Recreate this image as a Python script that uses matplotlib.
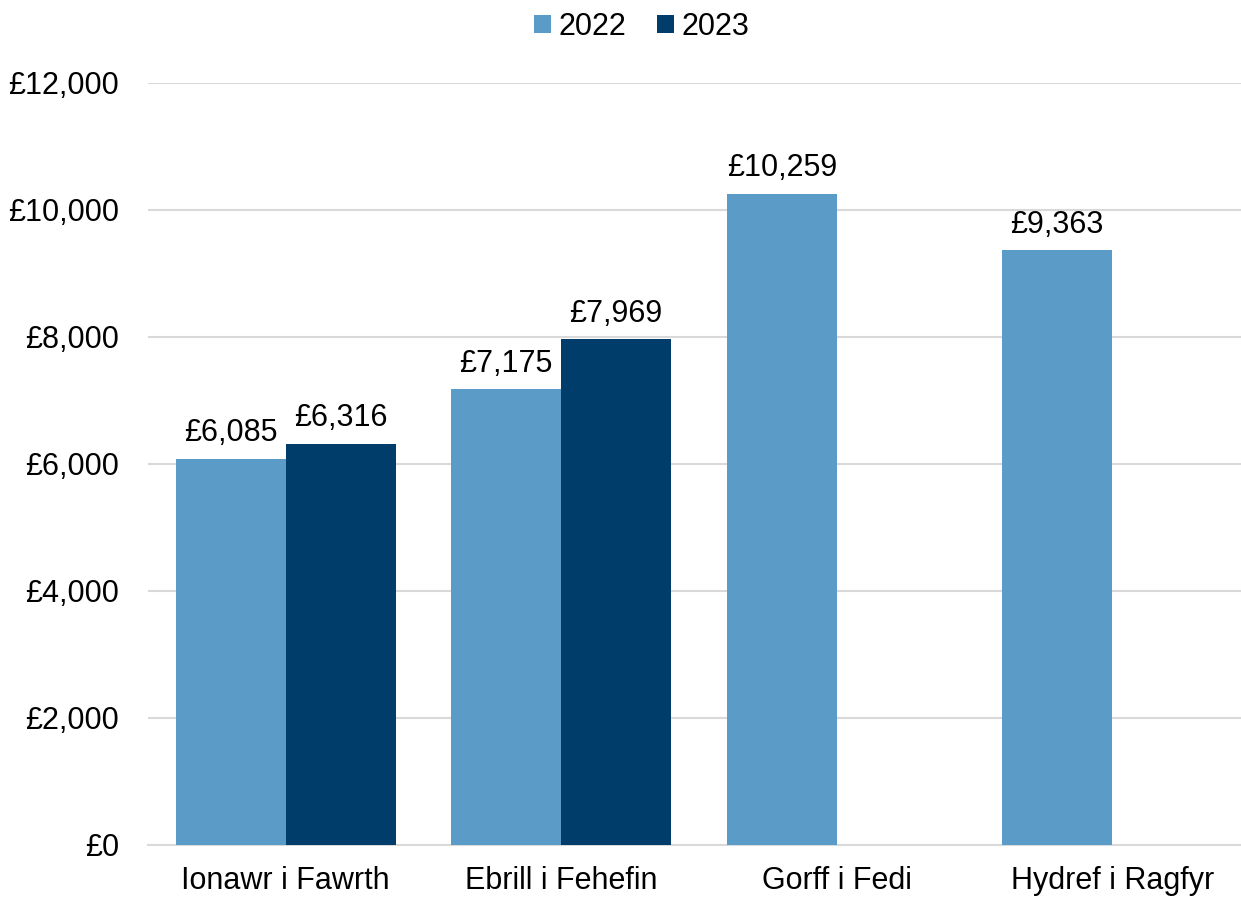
import matplotlib
matplotlib.use("Agg")
import matplotlib.pyplot as plt
import numpy as np

categories = ["Ionawr i Fawrth", "Ebrill i Fehefin", "Gorff i Fedi", "Hydref i Ragfyr"]
series_names = ["2022", "2023"]
values_2022 = [6085, 7175, 10259, 9363]
values_2023 = [6316, 7969, None, None]
yticks = [0, 2000, 4000, 6000, 8000, 10000, 12000]
colors = ["#5B9BC8", "#003D6B"]

plt.rcParams["font.family"] = ["Liberation Sans", "DejaVu Sans"]
fig = plt.figure(figsize=(12.41, 8.97), dpi=100)
ax = fig.add_axes([148 / 1241, 0.058, 1102 / 1241, 0.8495])

x = np.arange(len(categories))
w = 0.399
fs = 22
for i, (vals, name, col) in enumerate(zip([values_2022, values_2023], series_names, colors)):
    xs = [xi + (i - 0.5) * w for xi, v in zip(x, vals) if v is not None]
    vs = [v for v in vals if v is not None]
    bars = ax.bar(xs, vs, width=w, color=col, label=name, zorder=3)
    for b, v in zip(bars, vs):
        ax.annotate(f"£{v:,}", (b.get_x() + b.get_width() / 2, v), xytext=(0, 7.5),
                    textcoords="offset points", ha="center", va="bottom", fontsize=fs)

ax.set_xlim(-0.5, 3.5)
ax.set_ylim(0, 12000)
ax.set_yticks(yticks)
ax.set_yticklabels([f"£{t:,}" for t in yticks], fontsize=fs)
ax.set_xticks(x)
ax.set_xticklabels(categories, fontsize=fs)
ax.tick_params(axis="y", length=0, pad=21)
ax.tick_params(axis="x", length=0, pad=15)
ax.grid(axis="y", color="#D9D9D9", linewidth=1.5, zorder=0)
for s in ["top", "right", "left"]:
    ax.spines[s].set_visible(False)
ax.spines["bottom"].set_color("#D9D9D9")
ax.spines["bottom"].set_linewidth(1.5)

fig.legend(loc="center", bbox_to_anchor=(0.517, 0.97), ncol=2, frameon=False,
           fontsize=fs, handlelength=0.55, handleheight=0.55, handletextpad=0.25,
           columnspacing=1.0)

fig.savefig("out.png", dpi=100)
